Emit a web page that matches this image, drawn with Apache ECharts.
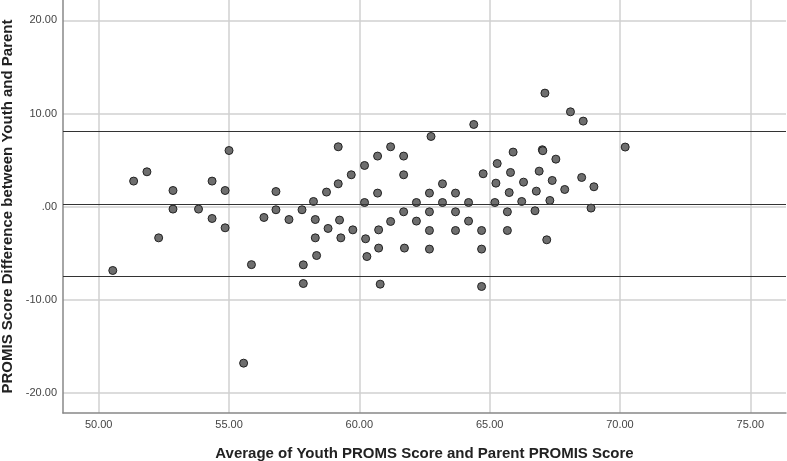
<!DOCTYPE html>
<html>
<head>
<meta charset="utf-8">
<script src="https://cdn.jsdelivr.net/npm/echarts@6/dist/echarts.min.js"></script>
<style>html,body{margin:0;padding:0;background:#fff}#c{width:787px;height:461px}</style>
</head>
<body>
<div id="c"></div>
<script>
// Average of scores (x) and difference (y)
const avgScore = [50.54,51.34,51.85,52.30,52.85,52.85,53.83,54.35,54.35,54.85,54.85,55.00,55.56,55.86,56.34,56.80,56.80,57.30,57.80,57.85,57.85,58.24,58.31,58.31,58.36,58.74,58.80,59.19,59.19,59.24,59.29,59.69,59.75,60.20,60.20,60.24,60.29,60.70,60.70,60.74,60.74,60.80,61.20,61.20,61.70,61.70,61.70,61.73,62.19,62.19,62.69,62.69,62.69,62.69,62.75,63.19,63.19,63.69,63.69,63.69,64.19,64.19,64.39,64.69,64.69,64.69,64.75,65.20,65.24,65.29,65.68,65.68,65.75,65.80,65.90,66.23,66.30,66.74,66.79,66.90,67.02,67.04,67.12,67.19,67.31,67.40,67.54,67.88,68.10,68.53,68.59,68.89,69.00,70.20];
const diffScore = [-6.88,2.73,3.73,-3.37,1.72,-0.28,-0.28,2.73,-1.29,1.72,-2.29,6.02,-16.84,-6.25,-1.18,1.61,-0.35,-1.40,-0.35,-6.27,-8.28,0.54,-1.40,-3.37,-5.27,1.55,-2.36,2.44,6.42,-1.46,-3.37,3.41,-2.51,4.41,0.43,-3.47,-5.38,5.42,1.44,-2.51,-4.47,-8.35,6.42,-1.61,5.42,3.41,-0.57,-4.47,0.43,-1.57,1.44,-0.57,-2.58,-4.58,7.53,2.44,0.43,1.44,-0.57,-2.58,0.43,-1.57,8.82,-2.58,-4.58,-8.60,3.52,0.43,2.51,4.62,-0.57,-2.58,1.50,3.66,5.85,0.54,2.62,-0.46,1.65,3.80,6.10,6.00,12.19,-3.58,0.65,2.80,5.09,1.83,10.18,3.12,9.18,-0.17,2.12,6.39];
// Upper limit, mean difference, lower limit
const refLines = [8.06, 0.29, -7.53];
const xTicks = [50, 55, 60, 65, 70, 75];
const yTicks = [-20, -10, 0, 10, 20];

const points = avgScore.map((x, i) => [x, diffScore[i]]);
const font = '"Liberation Sans", Arial, sans-serif';

const chart = echarts.init(document.getElementById('c'), null, {renderer: 'canvas'});
chart.setOption({
  animation: false,
  backgroundColor: '#fff',
  grid: {left: 63, right: 1, top: 0, bottom: 48, containLabel: false, outerBoundsMode: 'none'},
  xAxis: {
    type: 'value', min: 48.63, max: 76.37,
    name: 'Average of Youth PROMS Score and Parent PROMIS Score',
    nameLocation: 'middle', nameGap: 33,
    nameTextStyle: {fontFamily: font, fontWeight: 'bold', fontSize: 15, color: '#222'},
    axisLine: {show: true, onZero: false, lineStyle: {color: '#888', width: 1.5}},
    axisTick: {show: false, customValues: xTicks},
    axisLabel: {customValues: xTicks, formatter: v => v.toFixed(2), fontFamily: font, fontSize: 11, color: '#444', margin: 6},
    splitLine: {show: true, lineStyle: {color: '#d0d0d0', width: 1.5}}
  },
  yAxis: {
    type: 'value', min: -22.2, max: 22.2,
    name: 'PROMIS Score Difference between Youth and Parent',
    nameLocation: 'middle', nameGap: 43,
    nameTextStyle: {fontFamily: font, fontWeight: 'bold', fontSize: 15, color: '#222'},
    axisLine: {show: true, onZero: false, lineStyle: {color: '#888', width: 1.5}},
    axisTick: {show: false, customValues: yTicks},
    axisLabel: {customValues: yTicks, formatter: v => v === 0 ? '.00' : v.toFixed(2), fontFamily: font, fontSize: 11, color: '#444', margin: 6},
    splitLine: {show: true, lineStyle: {color: '#d0d0d0', width: 1.5}}
  },
  series: [{
    type: 'scatter',
    data: points,
    symbolSize: 8,
    itemStyle: {color: '#6e6e6e', borderColor: '#222', borderWidth: 1, opacity: 1},
    markLine: {
      silent: true, symbol: 'none', animation: false,
      label: {show: false},
      lineStyle: {color: '#333', width: 1.2, type: 'solid'},
      data: refLines.map(v => ({yAxis: v}))
    },
    z: 3
  }]
});
</script>
</body>
</html>
